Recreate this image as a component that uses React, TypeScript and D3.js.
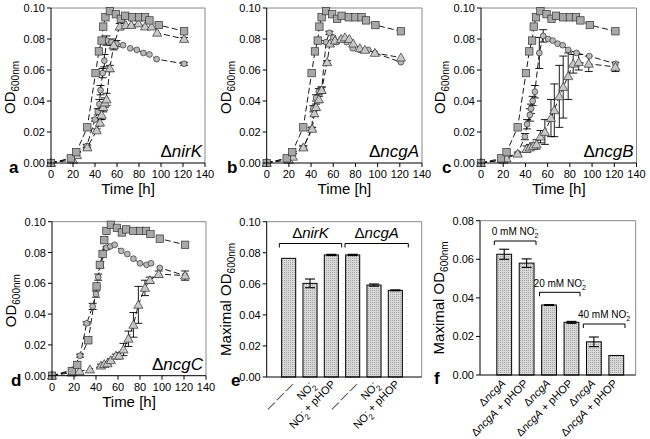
import * as d3 from "d3";

const FONT = "Arial, 'Liberation Sans', Helvetica, sans-serif";

// growth curves, time in h, OD600
const sqT = [0, 18, 23, 33, 40.5, 43.5, 46, 47.5, 49.5, 53.5, 59, 63.5, 67.5, 74, 80, 85.5, 89.5, 98, 121];
const sqOD = [0, 0.003, 0.007, 0.023, 0.058, 0.072, 0.079, 0.088, 0.094, 0.098, 0.096, 0.093, 0.095, 0.094, 0.094, 0.094, 0.092, 0.089, 0.085];

const aCircT = [0, 18, 23, 32.5, 40, 42.5, 44, 45, 47, 48.5, 50.5, 55, 59.5, 65.5, 72, 78, 84, 89.5, 96, 121];
const aCircOD = [0, 0.003, 0.005, 0.011, 0.028, 0.033, 0.038, 0.047, 0.058, 0.066, 0.079, 0.078, 0.077, 0.076, 0.074, 0.073, 0.071, 0.07, 0.067, 0.064];
const aCircErr = [0, 0, 0, 0.001, 0.001, 0.002, 0.003, 0.003, 0.003, 0.004, 0.003, 0.002, 0.002, 0, 0, 0, 0, 0, 0, 0.001];
const aTriT = [0, 20, 23.5, 33, 41.5, 44.5, 46, 47.5, 49, 50.5, 53.5, 57, 62.5, 68, 73, 79.5, 85.5, 91.5, 96.5, 121];
const aTriOD = [0, 0.002, 0.005, 0.01, 0.021, 0.026, 0.031, 0.036, 0.039, 0.041, 0.061, 0.076, 0.088, 0.089, 0.089, 0.09, 0.088, 0.088, 0.084, 0.08];
const aTriErr = [0, 0, 0, 0.001, 0.001, 0.002, 0.003, 0.003, 0.003, 0.004, 0.002, 0.003, 0.002, 0, 0, 0, 0, 0, 0, 0.001];

const bCircT = [0, 18, 23, 33, 40.5, 42, 44.5, 47, 49.5, 53.5, 56.5, 60, 63, 67.5, 72, 77.5, 84, 91.5, 97.5, 121];
const bCircOD = [0, 0.003, 0.006, 0.01, 0.022, 0.035, 0.042, 0.046, 0.047, 0.078, 0.084, 0.081, 0.078, 0.08, 0.078, 0.074, 0.073, 0.073, 0.071, 0.065];
const bCircErr = [0, 0, 0, 0.001, 0.001, 0.002, 0.002, 0.002, 0.002, 0.001, 0.001, 0, 0, 0, 0, 0, 0, 0, 0, 0];
const bTriT = [0, 20, 23.5, 33, 41, 43, 44.5, 47, 49.5, 54.5, 57, 61.5, 67, 70.5, 74.5, 78, 84, 88.5, 97.5, 121];
const bTriOD = [0, 0.002, 0.004, 0.01, 0.022, 0.032, 0.036, 0.041, 0.047, 0.065, 0.077, 0.079, 0.08, 0.081, 0.08, 0.077, 0.074, 0.073, 0.071, 0.068];
const bTriErr = [0, 0, 0, 0.001, 0.001, 0.002, 0.002, 0.002, 0.002, 0.001, 0.001, 0, 0, 0, 0, 0, 0, 0, 0, 0];

const cCircT = [0, 18, 23, 33, 39.5, 41.5, 44, 45, 46.5, 48.5, 52.5, 56, 60.5, 64.5, 69, 73.5, 78.5, 86, 97.5, 121];
const cCircOD = [0, 0.002, 0.004, 0.006, 0.017, 0.025, 0.031, 0.035, 0.04, 0.046, 0.071, 0.082, 0.08, 0.079, 0.077, 0.076, 0.073, 0.071, 0.069, 0.064];
const cCircErr = [0, 0, 0, 0, 0.002, 0.003, 0.004, 0.003, 0.003, 0.004, 0.01, 0.004, 0, 0, 0, 0, 0, 0, 0, 0];
const cTriT = [0, 20, 23, 33, 41, 44, 47, 50, 53.5, 57.5, 63, 66, 70.5, 74, 78.5, 83, 88, 97, 121];
const cTriOD = [0, 0.002, 0.003, 0.006, 0.009, 0.01, 0.011, 0.012, 0.017, 0.02, 0.029, 0.034, 0.043, 0.049, 0.056, 0.064, 0.065, 0.064, 0.062];
const cTriErr = [0, 0, 0, 0.001, 0.002, 0.002, 0.002, 0.003, 0.004, 0.008, 0.012, 0.017, 0.02, 0.02, 0.015, 0.006, 0.005, 0.005, 0.003];

const dCircT = [0, 19, 25.5, 31.5, 37, 40, 42, 44, 49.5, 53, 57, 63, 68.5, 74, 80, 86, 90, 98, 121];
const dCircOD = [0, 0.004, 0.013, 0.034, 0.045, 0.053, 0.064, 0.072, 0.083, 0.084, 0.085, 0.081, 0.079, 0.076, 0.073, 0.072, 0.073, 0.07, 0.065];
const dCircErr = [0, 0, 0.001, 0.001, 0.002, 0.002, 0.002, 0.002, 0.001, 0, 0, 0, 0, 0, 0, 0, 0, 0, 0];
const dTriT = [0, 18, 25, 34.5, 44.5, 47.5, 50.5, 53.5, 58, 61, 65, 69.5, 74, 78.5, 84.5, 89, 97, 121];
const dTriOD = [0, 0.002, 0.003, 0.004, 0.0065, 0.0075, 0.008, 0.01, 0.013, 0.013, 0.017, 0.024, 0.033, 0.046, 0.057, 0.062, 0.066, 0.065];
const dTriErr = [0, 0, 0, 0, 0.001, 0.001, 0.001, 0.001, 0.001, 0.002, 0.004, 0.005, 0.008, 0.012, 0.005, 0.002, 0.002, 0.003];

// maximal OD bars
const eLabels = ["dash", "no2", "no2p", "dash", "no2", "no2p"];
const eValues = [0.0764, 0.0603, 0.0786, 0.0786, 0.0592, 0.0558];
const eErrors = [0, 0.0028, 0.0004, 0.0004, 0.0007, 0.0003];

const fLabels = ["ncgA", "ncgAp", "ncgA", "ncgAp", "ncgA", "ncgAp"];
const fValues = [0.0626, 0.058, 0.0363, 0.0273, 0.0172, 0.0101];
const fErrors = [0.0026, 0.0022, 0.0002, 0.0005, 0.0025, 0];

type Series = { t: number[]; od: number[]; err: number[] };

function Delta({ name }: { name: string }) {
  return (
    <>
      <tspan fontStyle="normal">Δ</tspan>
      <tspan fontStyle="italic">{name}</tspan>
    </>
  );
}

function YLabel({ x, y, pre }: { x: number; y: number; pre: string }) {
  return (
    <text transform={`translate(${x},${y}) rotate(-90)`} textAnchor="middle" fontSize={15}>
      {pre}OD
      <tspan fontSize={10} dy={4}>600nm</tspan>
    </text>
  );
}

function GrowthPanel(props: {
  left: number; right: number; top: number; bottom: number;
  circles: Series; triangles: Series; strain: string; letter: string; letterX: number;
}) {
  const { left, right, top, bottom, circles, triangles, strain, letter, letterX } = props;
  const x = d3.scaleLinear().domain([0, 140]).range([left, right]);
  const y = d3.scaleLinear().domain([0, 0.1]).range([bottom, top]);
  const line = d3.line<[number, number]>().x((d) => x(d[0])).y((d) => y(d[1]));
  const pts = (t: number[], od: number[]) => t.map((v, i) => [v, od[i]] as [number, number]);
  const squares = pts(sqT, sqOD);
  const cap = 4;

  const errBars = (s: Series) =>
    s.t.map((t, i) =>
      s.err[i] > 0 ? (
        <g key={i} stroke="#000" strokeWidth={0.9}>
          <line x1={x(t)} x2={x(t)} y1={y(s.od[i] - s.err[i])} y2={y(s.od[i] + s.err[i])} />
          <line x1={x(t) - cap} x2={x(t) + cap} y1={y(s.od[i] - s.err[i])} y2={y(s.od[i] - s.err[i])} />
          <line x1={x(t) - cap} x2={x(t) + cap} y1={y(s.od[i] + s.err[i])} y2={y(s.od[i] + s.err[i])} />
        </g>
      ) : null
    );

  return (
    <g>
      <line x1={left} x2={right} y1={top} y2={top} stroke="#888" />
      <line x1={right} x2={right} y1={top} y2={bottom} stroke="#888" />
      {/* curves */}
      <g fill="none" stroke="#000" strokeWidth={0.9} strokeDasharray="6,3">
        <path d={line(pts(circles.t, circles.od)) ?? ""} />
        <path d={line(pts(triangles.t, triangles.od)) ?? ""} />
        <path d={line(squares) ?? ""} />
      </g>
      {errBars(circles)}
      {errBars(triangles)}
      {circles.t.map((t, i) => (
        <circle key={"c" + i} cx={x(t)} cy={y(circles.od[i])} r={2.9} fill="#b8b8b8" stroke="#333" strokeWidth={0.7} />
      ))}
      {triangles.t.map((t, i) => {
        const cx = x(t), cy = y(triangles.od[i]);
        return (
          <path key={"t" + i} d={`M${cx},${cy - 4.6}L${cx + 4.6},${cy + 3.4}L${cx - 4.6},${cy + 3.4}Z`}
            fill="#c8c8c8" stroke="#333" strokeWidth={0.7} />
        );
      })}
      {squares.map((d, i) => (
        <rect key={"s" + i} x={x(d[0]) - 3.7} y={y(d[1]) - 3.7} width={7.4} height={7.4}
          fill="#a8a8a8" stroke="#333" strokeWidth={0.7} />
      ))}
      {/* axes */}
      <line x1={left} x2={left} y1={top} y2={bottom} stroke="#000" />
      <line x1={left} x2={right} y1={bottom} y2={bottom} stroke="#000" />
      {x.ticks(7).map((v) => (
        <g key={v}>
          <line x1={x(v)} x2={x(v)} y1={bottom} y2={bottom + 4} stroke="#000" />
          <text x={x(v)} y={bottom + 15} textAnchor="middle" fontSize={11}>{v}</text>
        </g>
      ))}
      {y.ticks(5).map((v) => (
        <g key={v}>
          <line x1={left - 4} x2={left} y1={y(v)} y2={y(v)} stroke="#000" />
          <text x={left - 6} y={y(v) + 4} textAnchor="end" fontSize={11}>{d3.format(".2f")(v)}</text>
        </g>
      ))}
      <text x={(left + right) / 2} y={bottom + 31} textAnchor="middle" fontSize={15}>Time [h]</text>
      <YLabel x={left - 36} y={(top + bottom) / 2 + 2} pre="" />
      <text x={right - 3} y={bottom - 6} textAnchor="end" fontSize={17}><Delta name={strain} /></text>
      <text x={letterX} y={bottom + 10} fontSize={17} fontWeight="bold">{letter}</text>
    </g>
  );
}

function No2({ size }: { size: number }) {
  return (
    <>
      NO
      <tspan fontSize={size * 0.72} dy={size * 0.3}>2</tspan>
      <tspan fontSize={size * 0.72} dx={-size * 0.4} dy={-size * 0.75}>-</tspan>
    </>
  );
}

function BarLabel({ kind }: { kind: string }) {
  if (kind === "dash") return <tspan fontSize={10}>— — —</tspan>;
  if (kind === "no2") return <No2 size={11} />;
  if (kind === "no2p") return (<><No2 size={11} /><tspan dy={3.3}> + pHOP</tspan></>);
  if (kind === "ncgA") return <Delta name="ncgA" />;
  return (<><Delta name="ncgA" /><tspan> + pHOP</tspan></>);
}

function BarPanel(props: {
  left: number; right: number; top: number; bottom: number; ymax: number;
  labels: string[]; values: number[]; errors: number[]; r0: number; r1: number;
  letter: string; letterX: number; labelDx: number; children?: any;
}) {
  const { left, right, top, bottom, ymax, labels, values, errors, r0, r1, letter, letterX, labelDx } = props;
  const idx = values.map((_, i) => i);
  const x = d3.scaleBand<number>().domain(idx).range([r0, r1]).paddingInner(0.34).paddingOuter(0.17);
  const y = d3.scaleLinear().domain([0, ymax]).range([bottom, top]);
  const bw = x.bandwidth();
  return (
    <g>
      <line x1={left} x2={right} y1={top} y2={top} stroke="#888" />
      <line x1={right} x2={right} y1={top} y2={bottom} stroke="#888" />
      {idx.map((i) => {
        const cx = (x(i) ?? 0) + bw / 2;
        return (
          <g key={i}>
            <rect x={x(i)} y={y(values[i])} width={bw} height={bottom - y(values[i])}
              fill="url(#dots)" stroke="#000" strokeWidth={1} />
            {errors[i] > 0 && (
              <g stroke="#000" strokeWidth={1.1}>
                <line x1={cx} x2={cx} y1={y(values[i] - errors[i])} y2={y(values[i] + errors[i])} />
                <line x1={cx - 5} x2={cx + 5} y1={y(values[i] - errors[i])} y2={y(values[i] - errors[i])} />
                <line x1={cx - 5} x2={cx + 5} y1={y(values[i] + errors[i])} y2={y(values[i] + errors[i])} />
              </g>
            )}
            <text transform={`translate(${cx + labelDx},${bottom + 9}) rotate(-45)`} textAnchor="end" fontSize={11}>
              <BarLabel kind={labels[i]} />
            </text>
          </g>
        );
      })}
      <line x1={left} x2={left} y1={top} y2={bottom} stroke="#000" />
      <line x1={left} x2={right} y1={bottom} y2={bottom} stroke="#000" />
      {y.ticks(ymax > 0.09 ? 5 : 4).map((v) => (
        <g key={v}>
          <line x1={left - 4} x2={left} y1={y(v)} y2={y(v)} stroke="#000" />
          <text x={left - 6} y={y(v) + 4} textAnchor="end" fontSize={11}>{d3.format(".2f")(v)}</text>
        </g>
      ))}
      <YLabel x={left - 36} y={(top + bottom) / 2} pre="Maximal " />
      <text x={letterX} y={bottom + 9} fontSize={17} fontWeight="bold">{letter}</text>
      {props.children}
    </g>
  );
}

function Bracket({ x1, x2, y, label, ty, size }: { x1: number; x2: number; y: number; label: any; ty: number; size: number }) {
  return (
    <g>
      <path d={`M${x1},${y + 4}V${y}H${x2}V${y + 4}`} fill="none" stroke="#000" strokeWidth={1} />
      <text x={(x1 + x2) / 2} y={ty} textAnchor="middle" fontSize={size}>{label}</text>
    </g>
  );
}

function Conc({ c }: { c: string }) {
  return (<>{c} mM <No2 size={10} /></>);
}

export default function App() {
  return (
    <svg width={650} height={439} style={{ position: "absolute", left: 0, top: 0, background: "#fff" }}
      fontFamily={FONT}>
      <defs>
        <pattern id="dots" width={2} height={2} patternUnits="userSpaceOnUse">
          <rect width={2} height={2} fill="#d8d8d8" />
          <rect width={1} height={1} fill="#a8a8a8" />
        </pattern>
      </defs>
      <rect width={650} height={439} fill="#fff" />
      <GrowthPanel left={51} right={205} top={8} bottom={163} strain="nirK" letter="a" letterX={9}
        circles={{ t: aCircT, od: aCircOD, err: aCircErr }} triangles={{ t: aTriT, od: aTriOD, err: aTriErr }} />
      <GrowthPanel left={266.7} right={422} top={8} bottom={163} strain="ncgA" letter="b" letterX={227}
        circles={{ t: bCircT, od: bCircOD, err: bCircErr }} triangles={{ t: bTriT, od: bTriOD, err: bTriErr }} />
      <GrowthPanel left={481} right={636.5} top={8} bottom={163} strain="ncgB" letter="c" letterX={442}
        circles={{ t: cCircT, od: cCircOD, err: cCircErr }} triangles={{ t: cTriT, od: cTriOD, err: cTriErr }} />
      <GrowthPanel left={52} right={206} top={221.7} bottom={375.7} strain="ncgC" letter="d" letterX={11}
        circles={{ t: dCircT, od: dCircOD, err: dCircErr }} triangles={{ t: dTriT, od: dTriOD, err: dTriErr }} />
      <BarPanel left={266.7} right={421.7} top={221.7} bottom={377} ymax={0.1} labels={eLabels} values={eValues}
        errors={eErrors} r0={278} r1={406} letter="e" letterX={231} labelDx={6}>
        <Bracket x1={279.3} x2={341.7} y={243.5} ty={238} size={15} label={<Delta name="nirK" />} />
        <Bracket x1={345} x2={408.3} y={243.5} ty={238} size={15} label={<Delta name="ncgA" />} />
      </BarPanel>
      <BarPanel left={480} right={635.7} top={220.7} bottom={375} ymax={0.08} labels={fLabels} values={fValues}
        errors={fErrors} r0={493} r1={627.5} letter="f" letterX={434} labelDx={2}>
        <Bracket x1={494.3} x2={536} y={241} ty={235} size={10} label={<Conc c="0" />} />
        <Bracket x1={539.5} x2={580} y={292.3} ty={286.5} size={10} label={<Conc c="20" />} />
        <Bracket x1={583.3} x2={625} y={324} ty={318} size={10} label={<Conc c="40" />} />
      </BarPanel>
    </svg>
  );
}
